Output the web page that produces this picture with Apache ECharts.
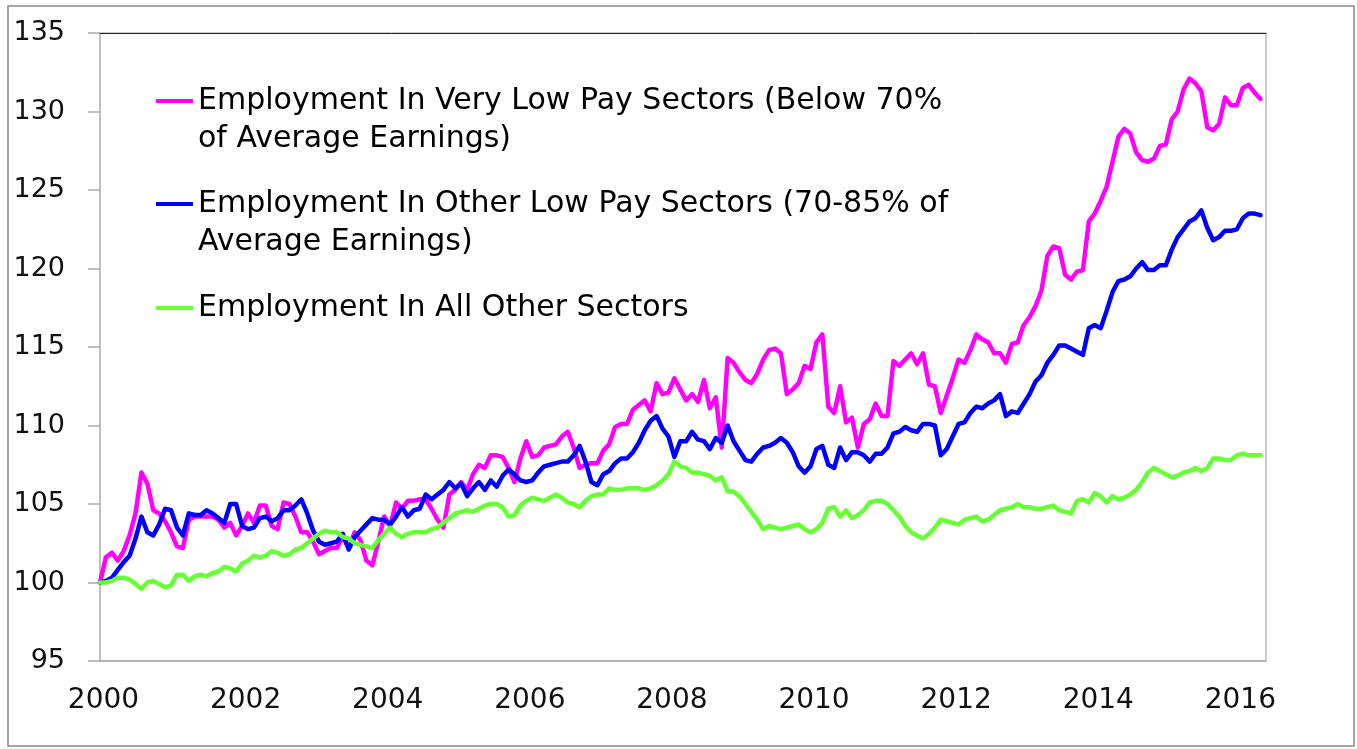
<!DOCTYPE html>
<html>
<head>
<meta charset="utf-8">
<title>Employment by pay sector</title>
<script src="https://cdn.jsdelivr.net/npm/echarts@6/dist/echarts.min.js"></script>
<style>
  html, body { margin: 0; padding: 0; background: #fff; }
  #chart { width: 1357px; height: 749px; }
</style>
</head>
<body>
<div id="chart"></div>
<script>
// monthly index, Jan 2000 = 100
var startYear = 2000;
var seriesNames = [
  'Employment In Very Low Pay Sectors (Below 70%\nof Average Earnings)',
  'Employment In Other Low Pay Sectors (70-85% of\nAverage Earnings)',
  'Employment In All Other Sectors'
];
var seriesColors = ['#ff00ff', '#0000ff', '#66ff33'];

var veryLowPay = [
  100.0,101.6,101.9,101.4,102.0,103.0,104.4,107.0,106.3,104.6,104.4,103.9,
  103.2,102.3,102.2,104.0,104.2,104.2,104.2,104.2,104.0,103.5,103.8,103.0,
  103.6,104.4,103.8,104.9,104.9,103.6,103.4,105.1,105.0,104.2,103.2,103.2,
  102.6,101.8,102.0,102.2,102.2,102.9,102.2,103.2,102.7,101.4,101.1,102.6,
  104.2,103.6,105.1,104.7,105.2,105.2,105.3,105.3,104.7,104.0,103.5,105.6,
  105.9,106.4,105.9,106.9,107.5,107.3,108.1,108.1,108.0,107.3,106.4,107.9,
  109.0,108.0,108.1,108.6,108.7,108.8,109.3,109.6,108.6,107.3,107.5,107.6,
  107.6,108.4,108.8,109.9,110.1,110.1,111.0,111.3,111.6,110.9,112.7,112.0,
  112.1,113.0,112.3,111.6,112.0,111.5,112.9,111.1,111.8,108.6,114.3,114.0,
  113.4,112.9,112.7,113.3,114.2,114.8,114.9,114.6,112.0,112.3,112.7,113.8,
  113.6,115.3,115.8,111.2,110.8,112.5,110.2,110.5,108.6,110.1,110.4,111.4,
  110.6,110.6,114.1,113.8,114.2,114.6,113.9,114.6,112.6,112.5,110.8,111.9,
  113.0,114.2,114.0,114.8,115.8,115.5,115.3,114.6,114.6,114.0,115.2,115.3,
  116.4,116.9,117.6,118.6,120.8,121.4,121.3,119.6,119.3,119.8,119.9,123.0,
  123.5,124.3,125.2,126.8,128.4,128.9,128.6,127.4,126.9,126.8,127.0,127.8,
  127.9,129.5,130.0,131.4,132.1,131.8,131.3,129.0,128.8,129.2,130.9,130.4,
  130.4,131.5,131.7,131.2,130.8
];

var otherLowPay = [
  100.0,100.1,100.3,100.8,101.3,101.7,102.8,104.2,103.2,103.0,103.7,104.7,
  104.6,103.5,103.0,104.4,104.3,104.3,104.6,104.4,104.1,103.8,105.0,105.0,
  103.6,103.4,103.5,104.1,104.2,103.9,104.1,104.6,104.6,104.9,105.3,104.4,
  103.3,102.6,102.4,102.5,102.6,103.1,102.1,102.9,103.3,103.7,104.1,104.0,
  104.0,103.7,104.2,104.8,104.2,104.6,104.7,105.6,105.3,105.6,105.9,106.4,
  106.0,106.3,105.5,106.0,106.4,105.9,106.5,106.1,106.8,107.2,106.9,106.5,
  106.4,106.5,107.0,107.4,107.5,107.6,107.7,107.7,108.1,108.7,107.7,106.4,
  106.2,106.9,107.1,107.6,107.9,107.9,108.3,108.9,109.7,110.3,110.6,109.8,
  109.3,108.0,109.0,109.0,109.6,109.1,109.0,108.5,109.2,108.9,110.0,109.0,
  108.4,107.8,107.7,108.2,108.6,108.7,108.9,109.2,108.9,108.3,107.4,107.0,
  107.4,108.5,108.7,107.5,107.3,108.6,107.8,108.3,108.3,108.1,107.7,108.2,
  108.2,108.6,109.5,109.6,109.9,109.7,109.6,110.1,110.1,110.0,108.1,108.5,
  109.3,110.1,110.2,110.8,111.2,111.1,111.4,111.6,112.0,110.6,110.9,110.8,
  111.4,112.0,112.8,113.2,114.0,114.5,115.1,115.1,114.9,114.7,114.5,116.2,
  116.4,116.2,117.3,118.5,119.2,119.3,119.5,120.0,120.4,119.9,119.9,120.2,
  120.2,121.2,122.0,122.5,123.0,123.2,123.7,122.6,121.8,122.0,122.4,122.4,
  122.5,123.2,123.5,123.5,123.4
];

var allOther = [
  100.0,100.0,100.1,100.3,100.3,100.2,99.9,99.6,100.0,100.1,99.9,99.7,
  99.8,100.5,100.5,100.1,100.4,100.5,100.4,100.6,100.7,101.0,100.9,100.7,
  101.2,101.4,101.7,101.6,101.7,102.0,101.9,101.7,101.8,102.1,102.2,102.5,
  102.8,103.1,103.3,103.2,103.2,102.9,102.8,102.5,102.4,102.3,102.2,102.7,
  103.1,103.5,103.1,102.9,103.1,103.2,103.2,103.2,103.4,103.5,103.8,104.1,
  104.4,104.5,104.6,104.5,104.7,104.9,105.0,105.0,104.8,104.2,104.3,104.9,
  105.2,105.4,105.3,105.2,105.4,105.6,105.4,105.1,105.0,104.8,105.2,105.5,
  105.6,105.6,106.0,105.9,105.9,106.0,106.0,106.0,105.9,106.0,106.2,106.5,
  106.9,107.7,107.4,107.3,107.0,107.0,106.9,106.8,106.5,106.7,105.8,105.8,
  105.5,105.0,104.5,104.0,103.4,103.6,103.5,103.4,103.5,103.6,103.7,103.4,
  103.2,103.4,103.8,104.7,104.8,104.2,104.6,104.1,104.3,104.6,105.1,105.2,
  105.2,105.0,104.6,104.2,103.6,103.2,103.0,102.8,103.1,103.5,104.0,103.9,
  103.8,103.7,104.0,104.1,104.2,103.9,104.0,104.3,104.6,104.7,104.8,105.0,
  104.8,104.8,104.7,104.7,104.8,104.9,104.6,104.5,104.4,105.2,105.3,105.1,
  105.7,105.5,105.1,105.5,105.3,105.4,105.6,105.9,106.4,107.0,107.3,107.1,
  106.9,106.7,106.8,107.0,107.1,107.3,107.1,107.3,107.9,107.9,107.8,107.8,
  108.1,108.2,108.1,108.1,108.1
];

var yTicks = { min: 95, max: 135, step: 5 };
var xTicks = { min: 2000, max: 2016.41, step: 2 };

function toPoints(arr) {
  return arr.map(function (v, i) { return [startYear + i / 12, v]; });
}

var chart = echarts.init(document.getElementById('chart'));
var labelFont = 'DejaVu Sans';

function legendFor(idx, top, twoLine) {
  return {
    data: [{ name: seriesNames[idx], icon: 'rect' }],
    left: 156,
    top: top,
    padding: 0,
    itemWidth: 37,
    itemHeight: 4,
    itemGap: 0,
    selectedMode: false,
    formatter: function (n) { return twoLine ? '\n' + n : n; },
    textStyle: {
      fontFamily: labelFont,
      fontSize: 30,
      lineHeight: 38,
      color: '#000'
    }
  };
}

var option = {
  animation: false,
  backgroundColor: '#fff',
  grid: {
    left: 100, right: 91, top: 33, bottom: 88,
    show: true, borderColor: '#999', borderWidth: 1
  },
  legend: [
    legendFor(0, 44, true),
    legendFor(1, 147, true),
    legendFor(2, 289, false)
  ],
  xAxis: [{
    type: 'value',
    min: xTicks.min,
    max: xTicks.max,
    interval: xTicks.step,
    axisLine: { show: true, lineStyle: { color: '#aaa', width: 1.5 } },
    axisTick: { show: false },
    splitLine: { show: false },
    axisLabel: {
      showMaxLabel: false,
      margin: 26,
      fontFamily: labelFont,
      fontSize: 28,
      color: '#111',
      padding: [0, 0, 0, 7],
      formatter: function (v) { return String(v); }
    }
  }, {
    type: 'value',
    position: 'top',
    min: xTicks.min,
    max: xTicks.max,
    axisLine: { show: true, onZero: false, lineStyle: { color: '#222', width: 1 } },
    axisTick: { show: false },
    axisLabel: { show: false },
    splitLine: { show: false }
  }],
  yAxis: {
    type: 'value',
    min: yTicks.min,
    max: yTicks.max,
    interval: yTicks.step,
    axisLine: { show: true, lineStyle: { color: '#bbb', width: 1.5 } },
    axisTick: { show: true, inside: false, length: 12, lineStyle: { color: '#aaa', width: 1.5 } },
    splitLine: { show: false },
    axisLabel: {
      margin: 35,
      fontFamily: labelFont,
      fontSize: 27,
      color: '#111'
    }
  },
  graphic: [{
    type: 'rect',
    shape: { x: 8, y: 6, width: 1346, height: 740 },
    style: { fill: 'none', stroke: '#888', lineWidth: 1.5 },
    silent: true
  }],
  series: [veryLowPay, otherLowPay, allOther].map(function (arr, k) {
    return {
      name: seriesNames[k],
      type: 'line',
      data: toPoints(arr),
      showSymbol: false,
      symbol: 'none',
      color: seriesColors[k],
      lineStyle: { color: seriesColors[k], width: 4.5, join: 'round', cap: 'round' },
      z: 2 + k
    };
  })
};

chart.setOption(option);
</script>
</body>
</html>
